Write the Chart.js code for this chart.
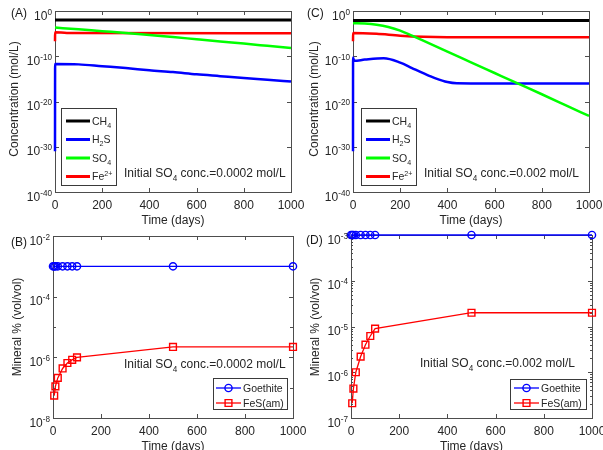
<!DOCTYPE html>
<html><head><meta charset="utf-8">
<script src="https://cdn.jsdelivr.net/npm/chart.js@4/dist/chart.umd.min.js"></script>
<style>
html,body{margin:0;padding:0;background:#fff;}
#wrap{position:relative;width:603px;height:450px;overflow:hidden;background:#fff;}
#wrap canvas{position:absolute;left:0;top:0;}
</style></head>
<body><div id="wrap">
<canvas id="cA" width="603" height="450"></canvas>
<canvas id="cC" width="603" height="450"></canvas>
<canvas id="cB" width="603" height="450"></canvas>
<canvas id="cD" width="603" height="450"></canvas>
</div>
<script>
// ---------------- DATA ----------------
// Panel A (initial SO4 = 0.0002 mol/L), concentrations in mol/L
const daysCH4_A = [0, 1000];
const ch4_A     = [1.05e-2, 1.05e-2];
const daysH2S_A = [0, 0.5, 5, 100, 200, 300, 400, 500, 600, 700, 800, 900, 1000];
const h2s_A     = [1e-31, 2e-12, 2e-12, 1.6e-12, 6.3e-13, 2.5e-13, 8e-14, 3.2e-14, 1e-14, 4e-15, 1.6e-15, 6.3e-16, 2.5e-16];
const daysSO4_A = [0, 100, 200, 300, 400, 500, 600, 700, 800, 900, 1000];
const so4_A     = [2.2e-4, 8.9e-5, 3.5e-5, 1.4e-5, 5e-6, 1.8e-6, 5.6e-7, 1.8e-7, 6.3e-8, 2e-8, 6.3e-9];
const daysFe_A  = [0, 0.5, 50, 1000];
const fe_A      = [2e-7, 2e-5, 1.4e-5, 1.2e-5];

// Panel C (initial SO4 = 0.002 mol/L)
const daysCH4_C = [0, 1000];
const ch4_C     = [8e-3, 8e-3];
const daysH2S_C = [0, 0.3, 5, 50, 130, 200, 250, 300, 350, 400, 440, 500, 1000];
const h2s_C     = [1e-31, 5e-11, 1e-11, 1.8e-11, 3.5e-11, 4e-12, 2.5e-13, 1.6e-14, 1.3e-15, 2e-16, 1.07e-16, 1e-16, 1e-16];
const daysSO4_C = [0, 50, 100, 150, 200, 250, 300, 400, 500, 600, 700, 800, 900, 1000];
const so4_C     = [2e-3, 1.66e-3, 8.9e-4, 2.8e-4, 4.5e-5, 3.5e-6, 2.5e-7, 1e-9, 4.5e-12, 2e-14, 8.9e-17, 4e-19, 1.6e-21, 6.3e-24];
const daysFe_C  = [0, 0.5, 100, 200, 300, 400, 1000];
const fe_C      = [2e-7, 1.4e-5, 8.9e-6, 3.5e-6, 2e-6, 1.66e-6, 1.6e-6];

// Panels B and D: mineral volume fractions
const daysGoethite = [0, 5, 10, 20, 40, 60, 80, 100, 500, 1000];
const goethite_B   = [1e-3, 1e-3, 1e-3, 1e-3, 1e-3, 1e-3, 1e-3, 1e-3, 1e-3, 1e-3];
const goethite_D   = [1e-3, 1e-3, 1e-3, 1e-3, 1e-3, 1e-3, 1e-3, 1e-3, 1e-3, 1e-3];
const daysFeS      = [5, 10, 20, 40, 60, 80, 100, 500, 1000];
const fes_B        = [5.5e-8, 1.1e-7, 2.1e-7, 4.3e-7, 6.5e-7, 8.3e-7, 1e-6, 2.2e-6, 2.2e-6];
const fes_D        = [2.1e-7, 4.4e-7, 1e-6, 2.2e-6, 4e-6, 6.2e-6, 9e-6, 2e-5, 2e-5];

// Ticks
const xTicks   = [0, 200, 400, 600, 800, 1000];
const yExpAC   = [0, -10, -20, -30, -40];
const yExpB    = [-2, -4, -6, -8];
const yExpBmin = [-3, -5, -7];
const yExpD    = [-3, -4, -5, -6, -7];

// ---------------- STYLE / HELPERS ----------------
const FONT = '"Liberation Sans", Arial, Helvetica, sans-serif';
const TXT = '#262626', AX = '#4d4d4d';
const f = s => s + 'px ' + FONT;
const pts = (xs, ys) => xs.map((x, i) => ({x, y: ys[i]}));

function richWidth(ctx, parts, size) {
  let w = 0;
  parts.forEach(p => { ctx.font = f((p.sub || p.sup) ? size * 0.68 : size); w += ctx.measureText(p.t).width; });
  return w;
}
function drawRich(ctx, parts, x, y, size, align) {
  const w = richWidth(ctx, parts, size);
  let cx = align === 'right' ? x - w : align === 'center' ? x - w / 2 : x;
  ctx.textAlign = 'left'; ctx.textBaseline = 'alphabetic';
  parts.forEach(p => {
    const s = (p.sub || p.sup) ? size * 0.68 : size;
    ctx.font = f(s);
    const dy = p.sub ? size * 0.3 : p.sup ? -size * 0.4 : 0;
    ctx.fillText(p.t, cx, y + dy);
    cx += ctx.measureText(p.t).width;
  });
}

function panelPlugin(spec) {
  return {
    id: 'panel' + spec.letter.t,
    beforeDatasetsDraw(chart) {
      const {ctx, chartArea: a, scales: {x, y}} = chart;
      ctx.save();
      ctx.strokeStyle = AX; ctx.lineWidth = 1;
      ctx.strokeRect(a.left + 0.5, a.top + 0.5, a.right - a.left, a.bottom - a.top);
      ctx.beginPath();
      xTicks.forEach(v => {
        const px = Math.round(x.getPixelForValue(v)) + 0.5;
        ctx.moveTo(px, a.bottom); ctx.lineTo(px, a.bottom - 4);
        ctx.moveTo(px, a.top); ctx.lineTo(px, a.top + 4);
      });
      spec.yExp.forEach(e => {
        const py = Math.round(y.getPixelForValue(Math.pow(10, e))) + 0.5;
        ctx.moveTo(a.left, py); ctx.lineTo(a.left + 4, py);
        ctx.moveTo(a.right, py); ctx.lineTo(a.right - 4, py);
      });
      (spec.yMinor || []).forEach(v => {
        const py = Math.round(y.getPixelForValue(v)) + 0.5;
        ctx.moveTo(a.left, py); ctx.lineTo(a.left + spec.minorLen, py);
        ctx.moveTo(a.right, py); ctx.lineTo(a.right - spec.minorLen, py);
      });
      ctx.stroke();
      ctx.restore();
    },
    afterDatasetsDraw(chart) {
      const {ctx, chartArea: a, scales: {x, y}} = chart;
      ctx.save();
      ctx.fillStyle = TXT;
      // x tick labels
      ctx.font = f(12); ctx.textAlign = 'center'; ctx.textBaseline = 'alphabetic';
      xTicks.forEach(v => ctx.fillText(String(v), x.getPixelForValue(v), a.bottom + 17));
      // y tick labels
      spec.yExp.forEach(e => {
        const py = y.getPixelForValue(Math.pow(10, e));
        drawRich(ctx, [{t: '10'}, {t: String(e), sup: true}], a.left - 3, py + 8.5, 12, 'right');
      });
      // axis titles
      ctx.fillStyle = TXT;
      ctx.font = f(12); ctx.textAlign = 'center'; ctx.textBaseline = 'alphabetic';
      ctx.fillText('Time (days)', (a.left + a.right) / 2, a.bottom + 32);
      ctx.save();
      ctx.translate(spec.yTitle.x, spec.yTitle.y); ctx.rotate(-Math.PI / 2);
      ctx.textBaseline = 'middle';
      ctx.fillText(spec.yTitle.t, 0, 0);
      ctx.restore();
      // panel letter
      ctx.fillStyle = '#1a1a1a'; ctx.font = f(12); ctx.textAlign = 'left'; ctx.textBaseline = 'middle';
      ctx.fillText(spec.letter.t, spec.letter.x, spec.letter.y);
      // annotation
      ctx.fillStyle = TXT;
      drawRich(ctx, spec.note.parts, spec.note.x, spec.note.y, 12, 'left');
      // legend
      const L = spec.legend;
      ctx.fillStyle = '#fff';
      ctx.fillRect(L.box[0], L.box[1], L.box[2] - L.box[0], L.box[3] - L.box[1]);
      ctx.strokeStyle = '#3a3a3a'; ctx.lineWidth = 1;
      ctx.strokeRect(L.box[0] + 0.5, L.box[1] + 0.5, L.box[2] - L.box[0], L.box[3] - L.box[1]);
      L.items.forEach((it, i) => {
        const ry = L.rows[i];
        ctx.strokeStyle = it.color; ctx.lineWidth = it.width;
        ctx.beginPath(); ctx.moveTo(L.line[0], ry); ctx.lineTo(L.line[1], ry); ctx.stroke();
        if (it.marker) {
          const mx = (L.line[0] + L.line[1]) / 2;
          ctx.lineWidth = 1.4; ctx.beginPath();
          if (it.marker === 'circle') ctx.arc(mx, ry, 3.6, 0, Math.PI * 2);
          else ctx.rect(mx - 3.4, ry - 3.4, 6.8, 6.8);
          ctx.stroke();
        }
        ctx.fillStyle = TXT;
        drawRich(ctx, it.label, L.textX, ry + 3.8, 10.5, 'left');
      });
      ctx.restore();
    }
  };
}

function makeChart(id, datasets, yMin, yMax, spec) {
  const [l, t, r, b] = spec.area;
  return new Chart(document.getElementById(id), {
    type: 'line',
    data: {datasets},
    options: {
      responsive: false, animation: false, events: [], devicePixelRatio: 1,
      layout: {autoPadding: false, padding: {left: l, top: t, right: 603 - r, bottom: 450 - b}},
      scales: {
        x: {type: 'linear', min: 0, max: 1000, display: false},
        y: {type: 'logarithmic', min: yMin, max: yMax, display: false}
      },
      plugins: {legend: {display: false}, tooltip: {enabled: false}, title: {display: false}}
    },
    plugins: [panelPlugin(spec)]
  });
}

const curve = (xs, ys, color, w) => ({
  data: pts(xs, ys), borderColor: color, borderWidth: w, pointRadius: 0,
  fill: false, cubicInterpolationMode: 'monotone', clip: 4
});
const marked = (xs, ys, color, style, r) => ({
  data: pts(xs, ys), borderColor: color, borderWidth: 1.3, pointRadius: r,
  pointStyle: style, pointBorderColor: color, pointBorderWidth: 1.4,
  pointBackgroundColor: 'rgba(255,255,255,0)', fill: false, tension: 0, clip: false
});

const legConc = [
  {color: '#000000', width: 3, label: [{t: 'CH'}, {t: '4', sub: true}]},
  {color: '#0000ff', width: 3, label: [{t: 'H'}, {t: '2', sub: true}, {t: 'S'}]},
  {color: '#00ff00', width: 3, label: [{t: 'SO'}, {t: '4', sub: true}]},
  {color: '#ff0000', width: 3, label: [{t: 'Fe'}, {t: '2+', sup: true}]}
];
const legMin = [
  {color: '#0000ff', width: 1.3, marker: 'circle', label: [{t: 'Goethite'}]},
  {color: '#ff0000', width: 1.3, marker: 'rect', label: [{t: 'FeS(am)'}]}
];
const note = c => [{t: 'Initial SO'}, {t: '4', sub: true}, {t: ' conc.=' + c + ' mol/L'}];

// ---------------- CHARTS ----------------
makeChart('cA', [
  curve(daysSO4_A, so4_A, '#00ff00', 2.5),
  curve(daysFe_A, fe_A, '#ff0000', 2.5),
  curve(daysH2S_A, h2s_A, '#0000ff', 2.5),
  curve(daysCH4_A, ch4_A, '#000000', 3)
], 1e-40, 1, {
  area: [55, 11, 291, 192], yExp: yExpAC,
  letter: {t: '(A)', x: 11, y: 14},
  yTitle: {t: 'Concentration (mol/L)', x: 15, y: 99},
  note: {parts: note('0.0002'), x: 124, y: 177},
  legend: {box: [61, 108, 116, 185], rows: [121, 139.5, 158, 176.5], line: [66, 90], textX: 92, items: legConc}
});

makeChart('cC', [
  curve(daysSO4_C, so4_C, '#00ff00', 2.5),
  curve(daysFe_C, fe_C, '#ff0000', 2.5),
  curve(daysH2S_C, h2s_C, '#0000ff', 2.5),
  curve(daysCH4_C, ch4_C, '#000000', 3)
], 1e-40, 1, {
  area: [353, 11, 589, 192], yExp: yExpAC,
  letter: {t: '(C)', x: 307, y: 14},
  yTitle: {t: 'Concentration (mol/L)', x: 315, y: 99},
  note: {parts: note('0.002'), x: 424, y: 177},
  legend: {box: [361, 108, 416, 185], rows: [121, 139.5, 158, 176.5], line: [366, 390], textX: 392, items: legConc}
});

makeChart('cB', [
  marked(daysGoethite, goethite_B, '#0000ff', 'circle', 3.6),
  marked(daysFeS, fes_B, '#ff0000', 'rect', 4.8)
], 1e-8, 1e-2, {
  area: [53, 236, 293, 418], yExp: yExpB,
  yMinor: yExpBmin.map(e => Math.pow(10, e)), minorLen: 3,
  letter: {t: '(B)', x: 11, y: 243},
  yTitle: {t: 'Mineral % (vol/vol)', x: 18, y: 327},
  note: {parts: note('0.0002'), x: 124, y: 368},
  legend: {box: [213, 378, 287, 409], rows: [388, 403], line: [216, 241], textX: 243, items: legMin}
});

const minorD = [];
for (let e = -7; e < -3; e++) for (let m = 2; m <= 9; m++) minorD.push(m * Math.pow(10, e));
makeChart('cD', [
  marked(daysGoethite, goethite_D, '#0000ff', 'circle', 3.6),
  marked(daysFeS, fes_D, '#ff0000', 'rect', 4.8)
], 1e-7, 1e-3, {
  area: [351, 235, 592, 418], yExp: yExpD,
  yMinor: minorD, minorLen: 2,
  letter: {t: '(D)', x: 306, y: 241},
  yTitle: {t: 'Mineral % (vol/vol)', x: 316, y: 327},
  note: {parts: note('0.002'), x: 420, y: 367},
  legend: {box: [510, 379, 586, 409], rows: [388, 403], line: [514, 539], textX: 541, items: legMin}
});
</script>
</body></html>
